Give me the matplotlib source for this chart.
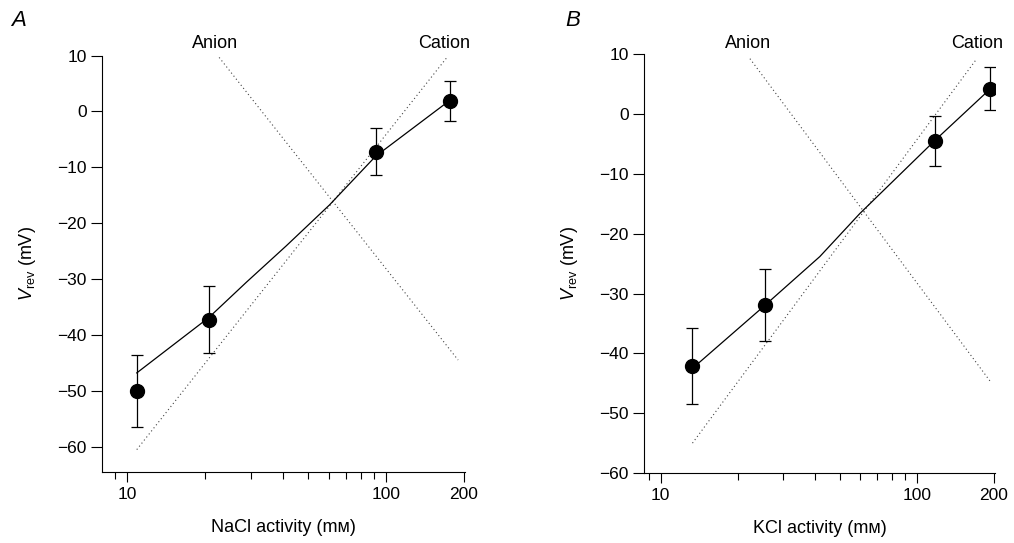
import matplotlib
matplotlib.use("Agg")
import matplotlib.pyplot as plt
from matplotlib.ticker import FixedLocator, NullFormatter, FixedFormatter

plt.rcParams['font.family'] = ['Liberation Sans', 'DejaVu Sans']
plt.rcParams['mathtext.fontset'] = 'custom'
plt.rcParams['mathtext.rm'] = 'Liberation Sans'
plt.rcParams['mathtext.it'] = 'Liberation Sans:italic'

# Panel A (NaCl)
a_x = [10.9, 20.7, 91.2, 176.6]
a_y = [-49.9, -37.2, -7.2, 1.9]
a_err = [6.4, 6.0, 4.2, 3.6]
a_fit_x = [10.9, 20.7, 28.9, 41.2, 60.5, 91.2, 176.6]
a_fit_y = [-46.7, -36.8, -30.5, -24.0, -16.7, -8.0, 2.0]
a_cat_x = [10.9, 171.0]
a_cat_y = [-60.4, 9.5]
a_an_x = [22.2, 190.0]
a_an_y = [10.2, -44.4]

# Panel B (KCl)
b_x = [13.3, 25.6, 117.5, 193.0]
b_y = [-42.1, -31.9, -4.5, 4.3]
b_err = [6.4, 6.0, 4.2, 3.6]
b_fit_x = [13.3, 25.6, 41.8, 59.9, 117.5, 193.0]
b_fit_y = [-42.5, -31.9, -23.8, -16.6, -4.4, 4.2]
b_cat_x = [13.3, 171.5]
b_cat_y = [-55.0, 9.3]
b_an_x = [22.3, 193.0]
b_an_y = [9.3, -44.6]

y_ticks = [10, 0, -10, -20, -30, -40, -50, -60]
y_ticklabels = ['10', '0', '\u221210', '\u221220', '\u221230', '\u221240', '\u221250', '\u221260']
x_major = [10, 100, 200]
x_major_labels = ['10', '100', '200']
x_minor = [9, 20, 30, 40, 50, 60, 70, 80, 90]

fig = plt.figure(figsize=(10.14, 5.43), dpi=100)
axA = fig.add_axes([102 / 1014, 1 - 472 / 543, 363 / 1014, (472 - 55.5) / 543])
axB = fig.add_axes([644 / 1014, 1 - 473 / 543, 351 / 1014, (473 - 54.5) / 543])

dot = (0, (1, 2.5))
FS = 12.5

def style(ax, xlim, ylim, xlabel):
    ax.set_xscale('log')
    ax.set_xlim(*xlim)
    ax.set_ylim(*ylim)
    for s in ['top', 'right']:
        ax.spines[s].set_visible(False)
    for s in ['left', 'bottom']:
        ax.spines[s].set_linewidth(0.8)
    ax.xaxis.set_major_locator(FixedLocator(x_major))
    ax.xaxis.set_major_formatter(FixedFormatter(x_major_labels))
    ax.xaxis.set_minor_locator(FixedLocator(x_minor))
    ax.xaxis.set_minor_formatter(NullFormatter())
    ax.set_yticks(y_ticks)
    ax.set_yticklabels(y_ticklabels)
    ax.tick_params(axis='y', length=8, width=0.8, labelsize=FS, pad=3)
    ax.tick_params(axis='x', which='major', length=7, width=0.8, labelsize=FS, pad=4)
    ax.tick_params(axis='x', which='minor', length=5, width=0.8)
    ax.set_xlabel(xlabel, fontsize=13, labelpad=12)
    ax.set_ylabel('$V_{\\mathrm{rev}}$ (mV)', fontsize=13, labelpad=14)

def draw(ax, x, y, err, fx, fy, cx, cy, anx, any_):
    ax.plot(cx, cy, color='#444444', lw=0.8, ls=dot)
    ax.plot(anx, any_, color='#444444', lw=0.8, ls=dot)
    ax.plot(fx, fy, color='black', lw=0.9)
    ax.errorbar(x, y, yerr=err, fmt='o', color='black', ms=10,
                ecolor='black', elinewidth=0.9, capsize=4.5, capthick=0.9)

style(axA, (8.0, 202), (-64.4, 10), 'NaCl activity (m\u1d0d)')
draw(axA, a_x, a_y, a_err, a_fit_x, a_fit_y, a_cat_x, a_cat_y, a_an_x, a_an_y)
style(axB, (8.6, 202), (-60, 10), 'KCl activity (m\u1d0d)')
draw(axB, b_x, b_y, b_err, b_fit_x, b_fit_y, b_cat_x, b_cat_y, b_an_x, b_an_y)

fig.text(19 / 1014, 1 - 21 / 543, 'A', fontsize=16, style='italic', ha='center', va='center')
fig.text(573 / 1014, 1 - 21 / 543, 'B', fontsize=16, style='italic', ha='center', va='center')
fig.text(215 / 1014, 1 - 43 / 543, 'Anion', fontsize=13, ha='center', va='center')
fig.text(444 / 1014, 1 - 43 / 543, 'Cation', fontsize=13, ha='center', va='center')
fig.text(748 / 1014, 1 - 43 / 543, 'Anion', fontsize=13, ha='center', va='center')
fig.text(977 / 1014, 1 - 43 / 543, 'Cation', fontsize=13, ha='center', va='center')

fig.savefig('out.png', dpi=100)
